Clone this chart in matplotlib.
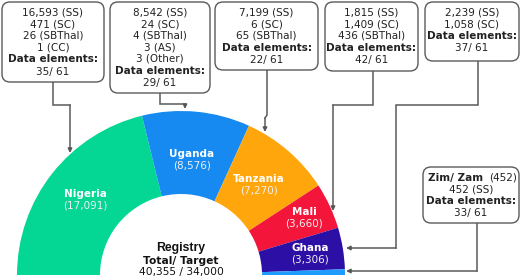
import math
import matplotlib
matplotlib.use("Agg")
import matplotlib.pyplot as plt
from matplotlib.patches import FancyBboxPatch

# ---------------- data ----------------
countries = ["Nigeria", "Uganda", "Tanzania", "Mali", "Ghana", "Zim/ Zam"]
counts = [17091, 8576, 7270, 3660, 3306, 452]
total_label = "40,355 / 34,000"

box_lines = [
    ["16,593 (SS)", "471 (SC)", "26 (SBThal)", "1 (CC)"],
    ["8,542 (SS)", "24 (SC)", "4 (SBThal)", "3 (AS)", "3 (Other)"],
    ["7,199 (SS)", "6 (SC)", "65 (SBThal)"],
    ["1,815 (SS)", "1,409 (SC)", "436 (SBThal)"],
    ["2,239 (SS)", "1,058 (SC)"],
    ["452 (SS)"],
]
data_elements = ["35/ 61", "29/ 61", "22/ 61", "42/ 61", "37/ 61", "33/ 61"]

# ---------------- style / layout ----------------
colors = ["#04D793", "#168AF0", "#FFA60D", "#F3163A", "#2C10A6", "#1E9BFF"]
W, H = 520, 280
cx, cy_px = 181, 275
R_out, R_in = 164, 81
label_r = [122, 116, 119, 136, 131]
FS = 7.5
TXT = "#222222"
LINE = "#5a5a5a"

# boxes: (left, top, right, bottom) in pixels
boxes = [
    (2, 2, 104, 82),
    (110, 2, 210, 93),
    (215, 2, 318, 70),
    (325, 2, 418, 71),
    (425, 2, 519, 61),
    (423, 167, 519, 223),
]
# connector paths in pixels; last point gets the arrowhead
paths = [
    [(53, 82), (53, 105), (70, 105), (70, 153)],
    [(160, 93), (160, 104), (185, 104), (185, 109)],
    [(267, 70), (267, 115), (265, 118), (265, 132)],
    [(373, 71), (373, 105), (333, 105), (333, 211)],
    [(478, 61), (478, 105), (396, 105), (396, 248), (346, 248)],
    [(477, 223), (477, 271), (346, 271)],
]


def Y(py):
    return H - py


fig = plt.figure(figsize=(5.2, 2.8), dpi=100)
ax = fig.add_axes([0, 0, 1, 1])

total = sum(counts)
wedges, _ = ax.pie(counts + [total], radius=R_out, center=(cx, Y(cy_px)),
                   startangle=180, counterclock=False,
                   colors=colors + ["white"],
                   wedgeprops=dict(width=R_out - R_in, linewidth=0))
wedges[-1].set_visible(False)

# slice labels
ang = 180.0
for i in range(5):
    span = 180.0 * counts[i] / total
    mid = math.radians(ang - span / 2)
    ang -= span
    x = cx + label_r[i] * math.cos(mid)
    y = Y(cy_px) + label_r[i] * math.sin(mid)
    ax.text(x, y + 6, countries[i], ha="center", va="center", fontsize=FS,
            fontweight="bold", color="white")
    ax.text(x, y - 6, f"({counts[i]:,})", ha="center", va="center",
            fontsize=FS, color="#f0f0f0")

# center text
ax.text(cx, Y(248), "Registry", ha="center", va="center", fontsize=8.8,
        fontweight="bold", color="#111111", family="Liberation Sans")
ax.text(cx, Y(261), "Total/ Target", ha="center", va="center", fontsize=7.7,
        fontweight="bold", color="#111111")
ax.text(cx, Y(272), total_label, ha="center", va="center", fontsize=7.7,
        color="#111111")

# boxes
for bi, (l, t, r, b) in enumerate(boxes):
    p = FancyBboxPatch((l + 6, Y(b) + 6), (r - l) - 12, (b - t) - 12,
                       boxstyle="round,pad=6,rounding_size=8",
                       fc="white", ec=LINE, lw=1.0, zorder=3)
    ax.add_patch(p)
    xc = (l + r) / 2
    yy = t + 10.5
    step = 11.6
    if bi == 5:
        ax.text(xc - 15, Y(yy), "Zim/ Zam", ha="center", va="center",
                fontsize=FS, fontweight="bold", color=TXT, zorder=4)
        ax.text(xc + 32, Y(yy), f"({counts[5]})", ha="center", va="center",
                fontsize=FS, color=TXT, zorder=4)
        yy += step
    for line in box_lines[bi]:
        ax.text(xc, Y(yy), line, ha="center", va="center", fontsize=FS,
                color=TXT, zorder=4)
        yy += step
    ax.text(xc, Y(yy + 0.5), "Data elements:", ha="center", va="center",
            fontsize=FS, fontweight="bold", color=TXT, zorder=4)
    yy += step + 0.5
    ax.text(xc, Y(yy + 0.5), data_elements[bi], ha="center", va="center",
            fontsize=FS, color=TXT, zorder=4)

# connectors
for pth in paths:
    xs = [p[0] for p in pth]
    ys = [Y(p[1]) for p in pth]
    ax.plot(xs[:-1], ys[:-1], color=LINE, lw=1.1, solid_joinstyle="miter",
            zorder=2)
    ax.annotate("", xy=(xs[-1], ys[-1]), xytext=(xs[-2], ys[-2]),
                arrowprops=dict(arrowstyle="-|>", color=LINE, lw=1.1,
                                mutation_scale=6, shrinkA=0, shrinkB=0,
                                fc="black"), zorder=2)

ax.set_xlim(0, W)
ax.set_ylim(0, H)
ax.set_aspect("equal")
ax.axis("off")
fig.savefig("out.png", dpi=100, facecolor="white")
